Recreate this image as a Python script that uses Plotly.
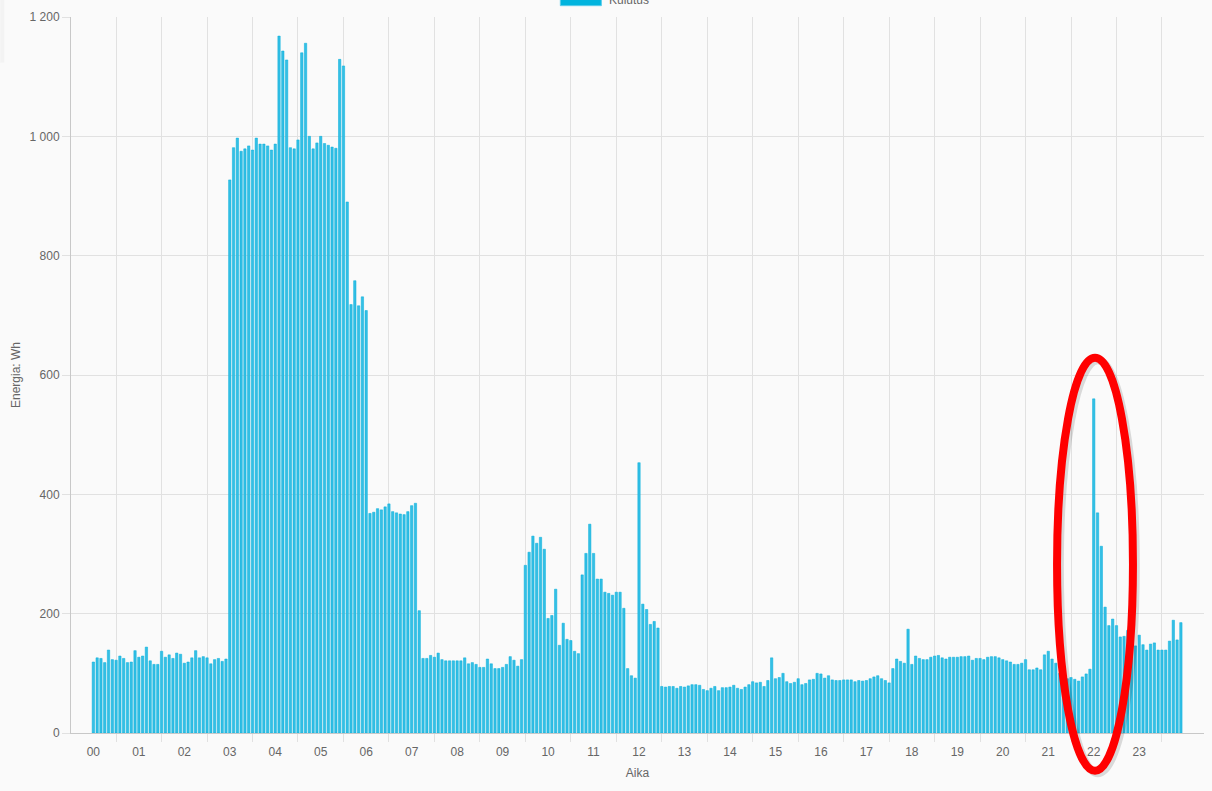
"""Kulutus (5 min energy use) bar chart with a red ellipse highlight."""
import plotly.graph_objects as go

hour_labels = ["00", "01", "02", "03", "04", "05", "06", "07", "08", "09", "10", "11",
               "12", "13", "14", "15", "16", "17", "18", "19", "20", "21", "22", "23"]

# energy per 5 minute slot, Wh (12 slots per hour)
kulutus_wh = [
    119, 126, 125, 118, 139, 123, 122, 129, 125, 118, 119, 138,
    127, 129, 144, 121, 115, 115, 137, 127, 131, 125, 134, 132,
    117, 119, 126, 138, 126, 128, 126, 116, 123, 125, 120, 124,
    927, 981, 997, 975, 979, 984, 977, 997, 987, 987, 984, 977,
    987, 1168, 1143, 1128, 981, 979, 994, 1140, 1156, 1000, 979, 989,
    1000, 988, 985, 982, 980, 1129, 1118, 890, 718, 758, 716, 731,
    708, 368, 370, 376, 374, 379, 384, 371, 369, 367, 366, 371,
    381, 385, 205, 125, 125, 130, 127, 134, 123, 121, 121, 121,
    121, 121, 126, 116, 118, 115, 110, 110, 124, 116, 108, 108,
    110, 115, 128, 122, 112, 123, 281, 303, 330, 318, 328, 308,
    192, 197, 241, 147, 184, 157, 155, 137, 133, 265, 301, 350,
    301, 258, 258, 236, 234, 231, 236, 236, 209, 108, 96, 92,
    453, 216, 207, 182, 187, 176, 78, 77, 78, 78, 75, 78,
    77, 79, 81, 81, 80, 73, 71, 75, 78, 71, 76, 76,
    77, 80, 75, 73, 77, 81, 86, 84, 85, 78, 88, 126,
    91, 93, 100, 86, 83, 85, 91, 81, 83, 89, 90, 100,
    99, 92, 96, 89, 88, 88, 89, 89, 89, 86, 88, 87,
    88, 91, 94, 96, 91, 88, 84, 108, 124, 120, 117, 174,
    115, 129, 125, 123, 123, 127, 129, 130, 126, 124, 127, 127,
    127, 128, 128, 129, 122, 125, 125, 123, 127, 128, 128, 126,
    123, 121, 119, 115, 115, 117, 123, 106, 106, 109, 106, 131,
    137, 124, 117, 100, 94, 91, 93, 90, 87, 94, 99, 107,
    560, 369, 313, 211, 180, 191, 180, 161, 162, 172, 176, 146,
    164, 148, 139, 149, 151, 139, 139, 139, 154, 189, 156, 185,
]

y_tick_vals = [0, 200, 400, 600, 800, 1000, 1200]
y_tick_text = ["0", "200", "400", "600", "800", "1 000", "1 200"]

SLOTS_PER_HOUR = 12
slot = list(range(len(kulutus_wh)))
slot_time = ["%02d:%02d" % (i // 12, (i % 12) * 5) for i in slot]

GRID = "#e1e1e1"
AXIS = "#c8c8c8"
TEXT = "#666666"
FONT = "Liberation Sans, Arial, sans-serif"

fig = go.Figure()
fig.add_trace(go.Bar(
    x=slot,
    y=kulutus_wh,
    name="Kulutus",
    customdata=slot_time,
    hovertemplate="%{customdata}<br>%{y} Wh<extra></extra>",
    marker=dict(color="rgb(52,191,229)", line=dict(color="rgb(0,174,219)", width=0.5)),
))

# hour labels sit on the first slot of each hour, grid lines half an hour before
fig.update_layout(
    width=1212,
    height=791,
    margin=dict(l=71, r=8, t=17, b=58),
    paper_bgcolor="#fafafa",
    plot_bgcolor="#fafafa",
    font=dict(family=FONT, size=12, color=TEXT),
    showlegend=False,
    bargap=0.38,
    xaxis=dict(
        range=[-5.9, 293.1],
        tickvals=[h * SLOTS_PER_HOUR for h in range(len(hour_labels))],
        ticktext=hour_labels,
        ticks="outside", ticklen=8, tickcolor="rgba(0,0,0,0)",
        showgrid=False, zeroline=False,
        showline=True, linecolor=AXIS, linewidth=1,
        minor=dict(
            tickvals=[h * SLOTS_PER_HOUR - SLOTS_PER_HOUR / 2 for h in range(len(hour_labels) + 1)],
            ticks="outside", ticklen=8, tickcolor=GRID,
            showgrid=True, gridcolor=GRID, gridwidth=1,
        ),
        title=dict(text="Aika", font=dict(size=12, color=TEXT), standoff=10),
        tickfont=dict(size=12, color=TEXT),
    ),
    yaxis=dict(
        range=[0, 1200],
        tickvals=y_tick_vals,
        ticktext=y_tick_text,
        ticks="outside", ticklen=8, tickcolor=GRID,
        showgrid=True, gridcolor=GRID, gridwidth=1, zeroline=False,
        showline=True, linecolor=AXIS, linewidth=1,
        title=dict(text="Energia: Wh", font=dict(size=12, color=TEXT), standoff=6),
        tickfont=dict(size=12, color=TEXT),
    ),
)

# legend swatch, half cut off at the top of the page as in the screenshot
fig.add_shape(type="rect", xref="paper", yref="paper",
              x0=0.4319, x1=0.4681, y0=1.0158, y1=1.034,
              fillcolor="rgb(0,180,222)", line=dict(color="rgb(90,205,235)", width=1))
fig.add_annotation(text="Kulutus", xref="paper", yref="paper", x=0.4732, y=1.0235,
                   xanchor="left", yanchor="middle", showarrow=False,
                   font=dict(size=12, color=TEXT))

# small panel edge in the top left corner
fig.add_shape(type="rect", xref="paper", yref="paper", x0=-0.0624, x1=-0.0589,
              y0=0.9362, y1=1.0242, fillcolor="#f3f3f3", line=dict(width=0), layer="below")

# red hand-drawn ellipse around the 22 o'clock spike, with a soft shadow
fig.add_shape(type="circle", xref="paper", yref="paper",
              x0=0.8728, x1=0.9398, y0=-0.0562, y1=0.5207,
              line=dict(color="rgba(0,0,0,0.13)", width=8))
fig.add_shape(type="circle", xref="paper", yref="paper",
              x0=0.8703, x1=0.9373, y0=-0.0527, y1=0.5242,
              line=dict(color="#ff0000", width=8))

fig.write_html("out.html", config={"displayModeBar": False})

# drop the browser's default body margin so the chart sits at the page corner
with open("out.html", encoding="utf-8") as f:
    page = f.read()
page = page.replace("<body>", '<body style="margin:0;overflow:hidden">', 1)
with open("out.html", "w", encoding="utf-8") as f:
    f.write(page)
